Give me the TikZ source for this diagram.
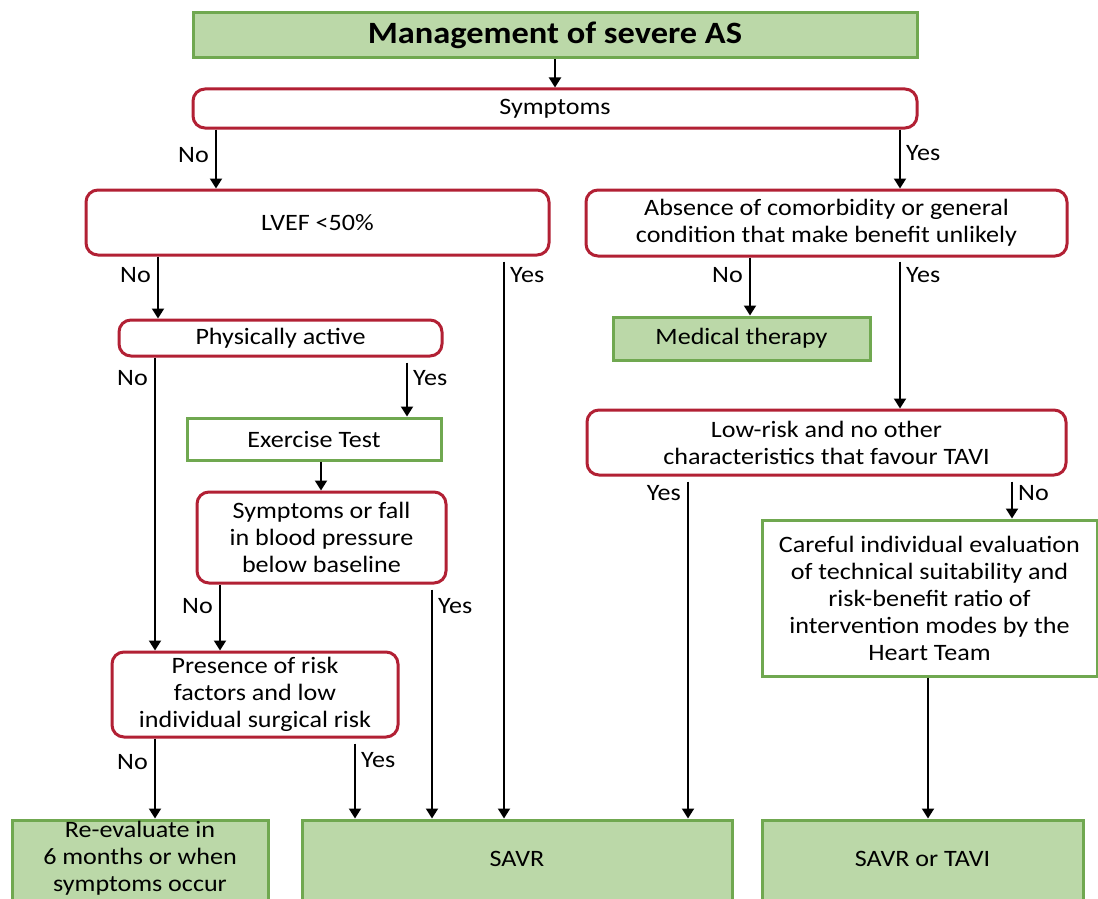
\documentclass[tikz,border=0pt]{standalone}
\usepackage{fontspec}
\setmainfont{Carlito}[FakeStretch=1.11]
\usetikzlibrary{arrows.meta}
\definecolor{gfill}{RGB}{187,216,168}
\definecolor{gline}{RGB}{112,168,80}
\definecolor{rline}{RGB}{178,32,52}
\tikzset{
  base/.style={font=\fontsize{23.5}{27}\selectfont, align=center, inner sep=0pt, line width=3pt},
  greenbox/.style={base, draw=gline, fill=gfill},
  whitebox/.style={base, draw=gline, fill=white},
  redbox/.style={base, draw=rline, fill=white, rounded corners=12pt},
  txt/.style={font=\fontsize{23.5}{27}\selectfont, align=center, inner sep=0pt},
  lab/.style={font=\fontsize{23.5}{27}\selectfont, inner sep=0pt},
  arr/.style={line width=2pt, -{Triangle[width=12pt,length=10pt]}},
}
\begin{document}
\begin{tikzpicture}[x=1pt,y=-1pt]
\clip (0,0) rectangle (1098,899);
\fill[white] (0,0) rectangle (1098,899);

% nodes
\node[greenbox, minimum width=724pt, minimum height=45pt, font=\fontsize{31}{34}\selectfont\bfseries] (title) at (555,35.5) {Management of severe AS};
\node[redbox, minimum width=724pt, minimum height=39pt] (symp) at (555,108.5) {Symptoms};
\node[redbox, minimum width=463pt, minimum height=65pt] (lvef) at (317.5,222.5) {LVEF <50\%};
\node[redbox, minimum width=481pt, minimum height=66pt] (abs) at (826.5,223) {Absence of comorbidity or general\\condition that make benefit unlikely};
\node[redbox, minimum width=323pt, minimum height=36pt] (pa) at (280.5,338) {Physically active};
\node[greenbox, minimum width=257pt, minimum height=43pt] (med) at (741.5,338.5) {Medical therapy};
\node[whitebox, minimum width=254pt, minimum height=42pt] (ex) at (314,439) {Exercise Test};
\node[redbox, minimum width=249pt, minimum height=91pt] (sf) at (321.5,537.5) {Symptoms or fall\\in blood pressure\\below baseline};
\node[redbox, minimum width=286pt, minimum height=85pt] (pres) at (255,694.5) {Presence of risk\\factors and low\\individual surgical risk};
\node[redbox, minimum width=479pt, minimum height=65pt] (low) at (826.5,442.5) {Low-risk and no other\\characteristics that favour TAVI};
\node[whitebox, minimum width=335pt, minimum height=156pt] (care) at (929.5,598) {Careful individual evaluation\\of technical suitability and\\risk-benefit ratio of\\intervention modes by the\\Heart Team};

\node[greenbox, minimum width=256pt, minimum height=100pt] (reev) at (140,870) {};
\node[txt] (reevt) at (140,858) {Re-evaluate in\\6 months or when\\symptoms occur};
\node[greenbox, minimum width=430pt, minimum height=100pt] (savr) at (517,870) {};
\node[txt] (savrt) at (517,859) {SAVR};
\node[greenbox, minimum width=321pt, minimum height=100pt] (st) at (922.5,870) {};
\node[txt] (stt) at (922.5,859) {SAVR or TAVI};

% connectors
\draw[arr] (title) -- (symp);
\draw[arr] (216,0 |- symp.south) -- (216,0 |- lvef.north);
\draw[arr] (900,0 |- symp.south) -- (900,0 |- abs.north);
\draw[arr] (158,0 |- lvef.south) -- (158,0 |- pa.north);
\draw[arr, shorten <=5pt] (504,0 |- lvef.south) -- (504,0 |- savr.north);
\draw[arr] (750,0 |- abs.south) -- (750,0 |- med.north);
\draw[arr, shorten <=4pt] (900,0 |- abs.south) -- (900,0 |- low.north);
\draw[arr] (155,0 |- pa.south) -- (155,0 |- pres.north);
\draw[arr, shorten <=5pt] (407,0 |- pa.south) -- (407,0 |- ex.north);
\draw[arr] (321,0 |- ex.south) -- (321,0 |- sf.north);
\draw[arr] (220,0 |- sf.south) -- (220,0 |- pres.north);
\draw[arr, shorten <=5pt] (432,0 |- sf.south) -- (432,0 |- savr.north);
\draw[arr] (155,0 |- pres.south) -- (155,0 |- reev.north);
\draw[arr, shorten <=5pt] (355,0 |- pres.south) -- (355,0 |- savr.north);
\draw[arr, shorten <=5pt] (688,0 |- low.south) -- (688,0 |- savr.north);
\draw[arr, shorten <=5pt] (1012,0 |- low.south) -- (1012,0 |- care.north);
\draw[arr] (928,0 |- care.south) -- (928,0 |- st.north);

% labels
\node[lab, anchor=east] (l1) at (209,155) {No};
\node[lab, anchor=west] (l2) at (906,153) {Yes};
\node[lab, anchor=east] (l3) at (151,275) {No};
\node[lab, anchor=west] (l4) at (510,275) {Yes};
\node[lab, anchor=east] (l5) at (743,275) {No};
\node[lab, anchor=west] (l6) at (906,275) {Yes};
\node[lab, anchor=east] (l7) at (148,378) {No};
\node[lab, anchor=west] (l8) at (413,378) {Yes};
\node[lab, anchor=east] (l9) at (213,606) {No};
\node[lab, anchor=west] (l10) at (438,606) {Yes};
\node[lab, anchor=east] (l11) at (148,762) {No};
\node[lab, anchor=west] (l12) at (361,760) {Yes};
\node[lab, anchor=east] (l13) at (681,493) {Yes};
\node[lab, anchor=west] (l14) at (1018,493) {No};
\end{tikzpicture}
\end{document}
